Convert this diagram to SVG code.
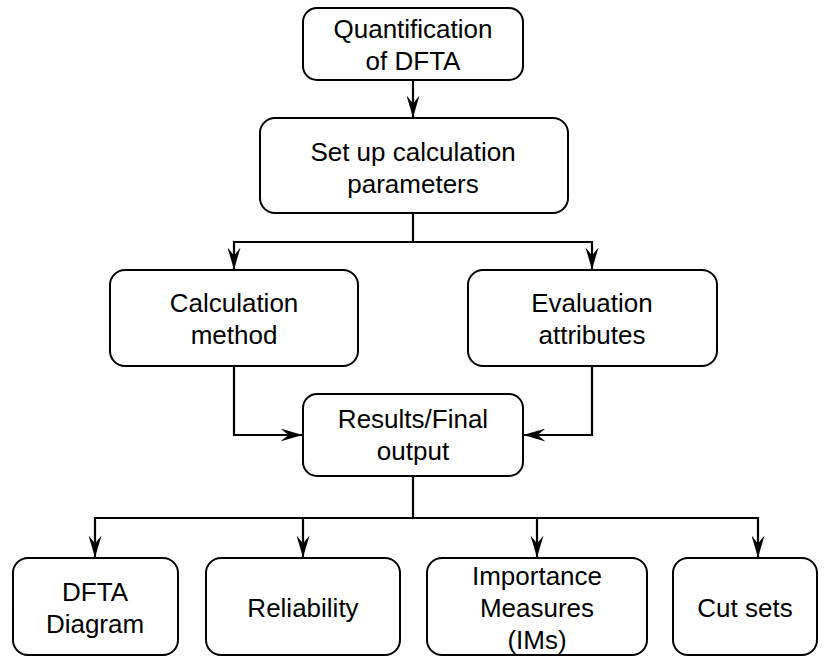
<svg xmlns="http://www.w3.org/2000/svg" width="830" height="657" viewBox="0 0 830 657">
  <style>
    .box { fill: #ffffff; stroke: #000000; stroke-width: 2; }
    .lbl { font-family: "Liberation Sans", Arial, sans-serif; font-size: 26px; fill: #000000; text-anchor: middle; }
    .wire { fill: none; stroke: #000000; stroke-width: 2.2; }
  </style>
  <defs>
    <marker id="arrow" viewBox="0 0 22 13" refX="21.5" refY="6.5" markerWidth="22" markerHeight="13" markerUnits="userSpaceOnUse" orient="auto">
      <path d="M0,0 L22,6.5 L0,13 L8,6.5 Z" fill="#000000"/>
    </marker>
  </defs>
  <rect width="830" height="657" fill="#ffffff"/>

  <g id="connectors">
    <path class="wire" d="M413,80 V117" marker-end="url(#arrow)"/>
    <path class="wire" d="M413,213 V242 H234 V269" marker-end="url(#arrow)"/>
    <path class="wire" d="M413,242 H592 V269" marker-end="url(#arrow)"/>
    <path class="wire" d="M234,366 V435 H302" marker-end="url(#arrow)"/>
    <path class="wire" d="M592,366 V435 H524" marker-end="url(#arrow)"/>
    <path class="wire" d="M413,476 V518 H95 V557" marker-end="url(#arrow)"/>
    <path class="wire" d="M413,518 H758 V557" marker-end="url(#arrow)"/>
    <path class="wire" d="M303,518 V557" marker-end="url(#arrow)"/>
    <path class="wire" d="M537,518 V557" marker-end="url(#arrow)"/>
  </g>

  <g id="quantification">
    <rect class="box" x="303" y="8" width="220" height="72" rx="14"/>
    <text class="lbl" x="413" y="38">Quantification</text>
    <text class="lbl" x="413" y="70">of DFTA</text>
  </g>

  <g id="setup">
    <rect class="box" x="260" y="118" width="308" height="95" rx="15"/>
    <text class="lbl" x="413" y="161">Set up calculation</text>
    <text class="lbl" x="413" y="193">parameters</text>
  </g>

  <g id="calc-method">
    <rect class="box" x="110" y="270" width="248" height="96" rx="15"/>
    <text class="lbl" x="234" y="312">Calculation</text>
    <text class="lbl" x="234" y="344">method</text>
  </g>

  <g id="eval-attributes">
    <rect class="box" x="468" y="270" width="249" height="96" rx="15"/>
    <text class="lbl" x="592" y="312">Evaluation</text>
    <text class="lbl" x="592" y="344">attributes</text>
  </g>

  <g id="results">
    <rect class="box" x="303" y="394" width="220" height="82" rx="14"/>
    <text class="lbl" x="413" y="428">Results/Final</text>
    <text class="lbl" x="413" y="460">output</text>
  </g>

  <g id="dfta-diagram">
    <rect class="box" x="13" y="558" width="165" height="97" rx="15"/>
    <text class="lbl" x="95" y="601">DFTA</text>
    <text class="lbl" x="95" y="633">Diagram</text>
  </g>

  <g id="reliability">
    <rect class="box" x="206" y="558" width="194" height="97" rx="15"/>
    <text class="lbl" x="303" y="617">Reliability</text>
  </g>

  <g id="importance">
    <rect class="box" x="427" y="558" width="220" height="97" rx="15"/>
    <text class="lbl" x="537" y="585">Importance</text>
    <text class="lbl" x="537" y="617">Measures</text>
    <text class="lbl" x="537" y="649">(IMs)</text>
  </g>

  <g id="cut-sets">
    <rect class="box" x="673" y="558" width="144" height="97" rx="15"/>
    <text class="lbl" x="745" y="617">Cut sets</text>
  </g>
</svg>
